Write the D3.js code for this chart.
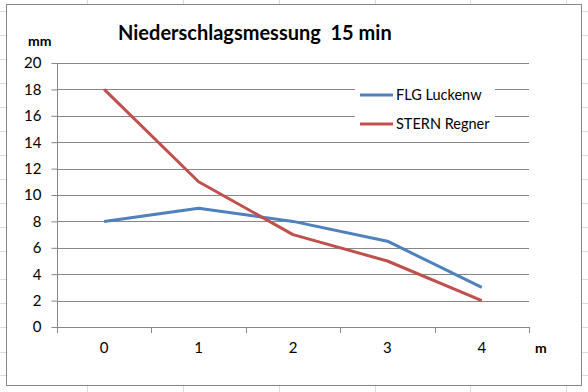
<!DOCTYPE html>
<html><head><meta charset="utf-8">
<script src="https://cdn.jsdelivr.net/npm/d3@7"></script>
<style>body{margin:0;background:#fff}svg{display:block}text{font-family:Lato,"Open Sans",sans-serif}</style>
</head><body>
<svg id="c" width="588" height="392"></svg>
<script>
const categories = ["0","1","2","3","4"];
const seriesNames = ["FLG Luckenw","STERN Regner"];
const flg = [8, 9, 8, 6.5, 3];
const stern = [18, 11, 7, 5, 2];
const yTicks = [0,2,4,6,8,10,12,14,16,18,20];
const colors = ["#4F81BD","#C0504D"];

const svg = d3.select("#c");
// spreadsheet background grid
const bg = svg.append("g").attr("stroke","#dcdcdc").attr("stroke-width",1);
[87,183,279,375,470,566].forEach(x=>bg.append("line").attr("x1",x+0.5).attr("x2",x+0.5).attr("y1",0).attr("y2",392));
[-13,11,35,59,83,107,131,155,179,203,227,251,279,303,327,352,375].forEach(y=>bg.append("line").attr("x1",0).attr("x2",588).attr("y1",y+0.5).attr("y2",y+0.5));

// chart area
svg.append("rect").attr("x",6.5).attr("y",4.5).attr("width",575).attr("height",381).attr("fill","#fff").attr("stroke","#868686");

const x = d3.scaleBand().domain(categories).range([57,529]);
const y = d3.scaleLinear().domain([0,20]).range([327,63]);

// gridlines
svg.append("g").selectAll("line").data(yTicks.filter(d=>d>0)).join("line")
  .attr("x1",57).attr("x2",529).attr("y1",d=>Math.round(y(d))+0.5).attr("y2",d=>Math.round(y(d))+0.5)
  .attr("stroke","#868686");

// y axis
const ya = svg.append("g").attr("transform","translate(57.5,0)")
  .call(d3.axisLeft(y).tickValues(yTicks).tickSize(6).tickPadding(10));
ya.select(".domain").attr("stroke","#868686").attr("d","M0,63V327");
ya.selectAll(".tick line").attr("stroke","#868686");
ya.selectAll(".tick text").attr("font-size",15).attr("fill","#000").attr("font-family","Lato,sans-serif");

// x axis
const xa = svg.append("g").attr("transform","translate(0,327.5)")
  .call(d3.axisBottom(x).tickSize(0).tickPadding(15));
xa.select(".domain").remove();
xa.selectAll(".tick text").attr("font-size",15).attr("fill","#000").attr("font-family","Lato,sans-serif");
svg.append("line").attr("x1",57).attr("x2",529).attr("y1",327.5).attr("y2",327.5).attr("stroke","#868686");
const xt = categories.map(c=>x(c)).concat([x.range()[1]]);
svg.append("g").selectAll("line").data(xt).join("line")
  .attr("x1",d=>Math.round(d)+0.5).attr("x2",d=>Math.round(d)+0.5).attr("y1",327).attr("y2",333).attr("stroke","#868686");

// lines
const line = d3.line().x((d,i)=>x(categories[i])+x.bandwidth()/2).y(d=>y(d));
[flg,stern].forEach((s,i)=>{
  svg.append("path").datum(s).attr("d",line).attr("fill","none").attr("stroke",colors[i]).attr("stroke-width",3).attr("stroke-linejoin","round");
});

// legend
svg.append("rect").attr("x",355).attr("y",74).attr("width",140).attr("height",62).attr("fill","#fff");
seriesNames.forEach((n,i)=>{
  const ly = 95 + i*29;
  svg.append("line").attr("x1",360).attr("x2",393).attr("y1",ly).attr("y2",ly).attr("stroke",colors[i]).attr("stroke-width",3);
  svg.append("text").attr("x",396).attr("y",ly+5).attr("font-size",14.5).text(n);
});

// titles
svg.append("text").attr("x",118).attr("y",40).attr("font-size",20).attr("font-weight","bold").attr("xml:space","preserve").style("white-space","pre").text("Niederschlagsmessung  15 min");
svg.append("text").attr("x",28).attr("y",46).attr("font-size",14).attr("font-weight","bold").text("mm");
svg.append("text").attr("x",535).attr("y",353).attr("font-size",14).attr("font-weight","bold").text("m");
</script>
</body></html>
